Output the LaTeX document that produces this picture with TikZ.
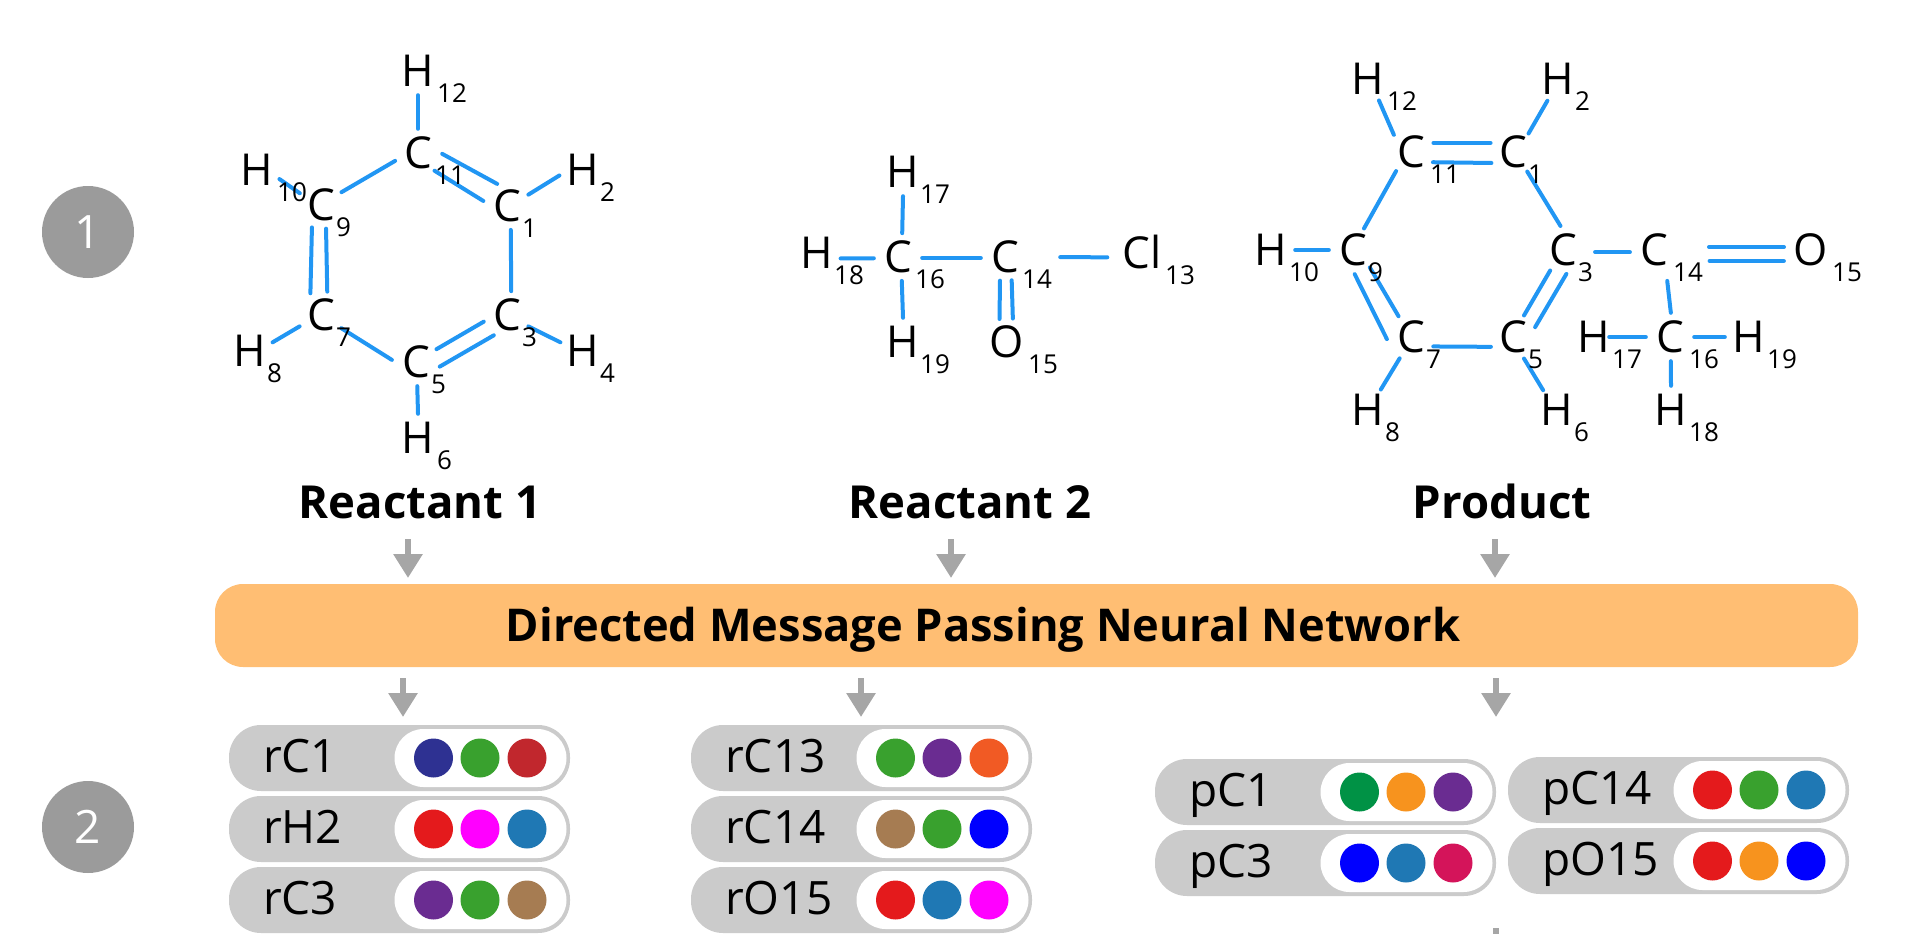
\documentclass[tikz,border=0pt]{standalone}
\usepackage{fontspec}
\setmainfont{Open Sans}
\usetikzlibrary{arrows.meta}
\definecolor{bondblue}{HTML}{2196F3}
\definecolor{stepgray}{HTML}{9B9B9B}
\definecolor{arrowgray}{HTML}{A6A6A6}
\definecolor{pillgray}{HTML}{CBCBCB}
\definecolor{netorange}{HTML}{FFBE73}
\definecolor{dotnavy}{HTML}{2E3192}
\definecolor{dotgreen}{HTML}{39A12E}
\definecolor{dotcrimson}{HTML}{C1272D}
\definecolor{dotred}{HTML}{E41A1C}
\definecolor{dotblue}{HTML}{1F78B4}
\definecolor{dotpurple}{HTML}{6A2C91}
\definecolor{dotbrown}{HTML}{A67C52}
\definecolor{dotrust}{HTML}{F15A24}
\definecolor{dotforest}{HTML}{009245}
\definecolor{dotorange}{HTML}{F7931E}
\definecolor{dotrose}{HTML}{D4145A}
\definecolor{dotmagenta}{HTML}{FF00FF}
\definecolor{dotpure}{HTML}{0000FF}
\newcommand{\atom}[4]{\node[atomlabel] (#1) at (#2,#3) {#4};}
\newcommand{\atomsub}[3][17]{\node[subnum] (#2sub) at ([shift={(#1,22)}]#2.center) {#3};}
\newcommand{\pillrow}[7]{%
  \node[pillbody] (#1) at (#2+170.5,#3+33) {};
  \node[pillwhite] (#1w) at (#2+252,#3+33) {};
  \node[pilltext] (#1t) at (#2+34,#3+31) {#4};
  \node[pilldot, fill=#5] (#1a) at (#2+204.5,#3+33) {};
  \node[pilldot, fill=#6] (#1b) at (#2+251,#3+33) {};
  \node[pilldot, fill=#7] (#1c) at (#2+298,#3+33) {};
}
\begin{document}
\begin{tikzpicture}[x=1pt, y=-1pt,
  atomlabel/.style={circle, inner sep=0pt, minimum size=48pt, text height=31pt, text depth=0pt, font=\fontsize{44}{44}\selectfont},
  subnum/.style={anchor=west, inner sep=0pt, font=\fontsize{26}{26}\selectfont},
  bond/.style={draw=bondblue, line width=\molBondWidth, line cap=round},
  steplabel/.style={circle, fill=stepgray, minimum size=92pt, inner sep=0pt, text=white, font=\fontsize{46}{46}\selectfont},
  moltitle/.style={inner sep=0pt, text height=33pt, text depth=0pt, font=\fontsize{45.5}{46}\bfseries\selectfont},
  netbar/.style={fill=netorange, rounded corners=28pt, minimum width=1643pt, minimum height=83pt, inner sep=0pt},
  nettext/.style={inner sep=0pt, text height=33pt, text depth=10pt, font=\fontsize{45.2}{46}\bfseries\selectfont},
  flowarrow/.style={draw=arrowgray, line width=6pt, -{Triangle[width=28pt, length=24pt]}},
  pillbody/.style={fill=pillgray, rounded corners=32pt, minimum width=341pt, minimum height=66pt, inner sep=0pt},
  pillwhite/.style={fill=white, rounded corners=29pt, minimum width=172pt, minimum height=58pt, inner sep=0pt, xshift=-0.5pt},
  pilltext/.style={anchor=west, inner sep=0pt, text height=33pt, text depth=0pt, font=\fontsize{46}{46}\selectfont},
  pilldot/.style={circle, minimum size=39pt, inner sep=0pt}]
\providecommand{\molBondWidth}{4pt}
\useasboundingbox (0,0) rectangle (1920,934);
% Step numbers
\node[steplabel] (stepone) at (88,232) {1};
\node[steplabel] (steptwo) at (88,827) {2};
% Reactant 1
\atom{raC11}{418}{153}{C}
\atom{raC1}{507}{206}{C}
\atom{raC3}{507}{315}{C}
\atom{raC5}{416}{362}{C}
\atom{raC7}{321}{315}{C}
\atom{raC9}{321}{205}{C}
\atom{raH12}{418}{71}{H}
\atom{raH2}{583}{170}{H}
\atom{raH4}{583}{351}{H}
\atom{raH6}{418}{438}{H}
\atom{raH8}{250}{351}{H}
\atom{raH10}{257}{170}{H}
\draw[bond] (raH12.-90) -- (raC11.90);
\draw[bond] (raC11.-2) -- (raC1.114);
\draw[bond] (raC11.-47) -- (raC1.168);
\draw[bond] (raC1.28) -- (raH2.193);
\draw[bond] (raC1.-81) -- (raC3.80);
\draw[bond] (raC3.-28) -- (raH4.159);
\draw[bond] (raC3.196) -- (raC5.32);
\draw[bond] (raC3.237) -- (raC5.-11);
\draw[bond] (raC5.-87) -- (raH6.90);
\draw[bond] (raC5.175) -- (raC7.-33);
\draw[bond] (raC7.208) -- (raH8.21);
\draw[bond] (raC9.248) -- (raC7.116);
\draw[bond] (raC9.-78) -- (raC7.75);
\draw[bond] (raC9.151) -- (raH10.-22);
\draw[bond] (raC9.32) -- (raC11.199);
\atomsub{raC11}{11}
\atomsub[15]{raC1}{1}
\atomsub[15]{raC3}{3}
\atomsub[15]{raC5}{5}
\atomsub[15]{raC7}{7}
\atomsub[15]{raC9}{9}
\atomsub[19]{raH12}{12}
\atomsub{raH2}{2}
\atomsub{raH4}{4}
\atomsub[19]{raH6}{6}
\atomsub{raH8}{8}
\atomsub[20]{raH10}{10}
\node[moltitle] (titlea) at (420,502) {Reactant 1};
% Reactant 2
\atom{rbH17}{903}{172}{H}
\atom{rbC16}{898}{257}{C}
\atom{rbC14}{1005}{257}{C}
\atom{rbCl13}{1142}{253}{Cl}
\atom{rbH18}{817}{253}{H}
\atom{rbH19}{903}{342}{H}
\atom{rbO15}{1007}{342}{O}
\draw[bond] (rbH17.-90) -- (rbC16.80);
\draw[bond] (rbH18.-13) -- (rbC16.183);
\draw[bond] (rbC16.-2) -- (rbC14.182);
\draw[bond, shorten <=31pt, shorten >=10pt] (rbC14.0) -- (rbCl13.190);
\draw[bond] (rbC16.-81) -- (rbH19.90);
\draw[bond] (rbC14.258) -- (rbO15.108);
\draw[bond] (rbC14.-74) -- (rbO15.76);
\atomsub{rbH17}{17}
\atomsub{rbC16}{16}
\atomsub{rbC14}{14}
\atomsub[23]{rbCl13}{13}
\atomsub{rbH18}{18}
\atomsub{rbH19}{19}
\atomsub[21]{rbO15}{15}
\node[moltitle] (titleb) at (970,502) {Reactant 2};
% Product
\atom{prC11}{1411}{152}{C}
\atom{prC1}{1513}{152}{C}
\atom{prC3}{1563}{250}{C}
\atom{prC14}{1654}{250}{C}
\atom{prO15}{1811}{250}{O}
\atom{prC9}{1353}{250}{C}
\atom{prH10}{1271}{250}{H}
\atom{prC7}{1411}{337}{C}
\atom{prC5}{1513}{337}{C}
\atom{prH8}{1368}{410}{H}
\atom{prH6}{1557}{410}{H}
\atom{prH12}{1368}{79}{H}
\atom{prH2}{1558}{79}{H}
\atom{prC16}{1670}{337}{C}
\atom{prH17}{1594}{337}{H}
\atom{prH19}{1749}{337}{H}
\atom{prH18}{1671}{410}{H}
\draw[bond] (prH12.-63) -- (prC11.135);
\draw[bond] (prC11.22) -- (prC1.158);
\draw[bond] (prC11.-25) -- (prC1.207);
\draw[bond] (prH2.244) -- (prC1.50);
\draw[bond] (prC1.-54) -- (prC3.96);
\draw[bond] (prC11.232) -- (prC9.63);
\draw[bond] (prH10.0) -- (prC9.180);
\draw[bond] (prC9.-46) -- (prC7.121);
\draw[bond] (prC9.-86) -- (prC7.185);
\draw[bond] (prC7.-23) -- (prC5.204);
\draw[bond] (prC7.242) -- (prH8.58);
\draw[bond] (prC5.-63) -- (prH6.125);
\draw[bond] (prC5.63) -- (prC3.238);
\draw[bond] (prC5.24) -- (prC3.-82);
\draw[bond, shorten <=8pt] (prC3.-5) -- (prC14.185);
\draw[bond, shorten <=31pt, shorten >=3pt] (prC14.7) -- (prO15.173);
\draw[bond, shorten <=34pt, shorten >=5.6pt] (prC14.-27) -- (prO15.207);
\draw[bond, shorten <=10pt] (prC14.-60) -- (prC16.88);
\draw[bond, shorten <=-9pt] (prH17.0) -- (prC16.180);
\draw[bond] (prC16.0) -- (prH19.180);
\draw[bond] (prC16.-88) -- (prH18.90);
\atomsub[19]{prC11}{11}
\atomsub[15]{prC1}{1}
\atomsub[15]{prC3}{3}
\atomsub[19]{prC14}{14}
\atomsub[21]{prO15}{15}
\atomsub[15]{prC9}{9}
\atomsub[18]{prH10}{10}
\atomsub[15]{prC7}{7}
\atomsub[15]{prC5}{5}
\atomsub{prH8}{8}
\atomsub{prH6}{6}
\atomsub[19]{prH12}{12}
\atomsub{prH2}{2}
\atomsub[19]{prC16}{16}
\atomsub[18]{prH17}{17}
\atomsub[18]{prH19}{19}
\atomsub[18]{prH18}{18}
\node[moltitle] (titlep) at (1502,502) {Product};
% Network bar
\node[netbar] (network) at (1036.5,625.5) {};
\node[nettext] (nettitle) at (983,630) {Directed Message Passing Neural Network};
% Arrows
\foreach \n/\ax/\ay in {a/408/539, b/951/539, c/1495/539, d/403/678, e/861/678, f/1496/678}{
  \coordinate (arrtop\n) at (\ax,\ay);
  \coordinate (arrend\n) at (\ax,\ay+39);
  \draw[flowarrow] (arrtop\n) -- (arrend\n);
}
\coordinate (stubtop) at (1496,928);
\coordinate (stubend) at (1496,934);
\draw[draw=arrowgray, line width=6pt] (stubtop) -- (stubend);
% Feature pills
\pillrow{pillrCa}{229}{725}{rC1}{dotnavy}{dotgreen}{dotcrimson}
\pillrow{pillrHb}{229}{796}{rH2}{dotred}{dotmagenta}{dotblue}
\pillrow{pillrCc}{229}{867}{rC3}{dotpurple}{dotgreen}{dotbrown}
\pillrow{pillrCm}{691}{725}{rC13}{dotgreen}{dotpurple}{dotrust}
\pillrow{pillrCn}{691}{796}{rC14}{dotbrown}{dotgreen}{dotpure}
\pillrow{pillrOo}{691}{867}{rO15}{dotred}{dotblue}{dotmagenta}
\pillrow{pillpCa}{1155}{759}{pC1}{dotforest}{dotorange}{dotpurple}
\pillrow{pillpCc}{1155}{830}{pC3}{dotpure}{dotblue}{dotrose}
\pillrow{pillpCn}{1508}{757}{pC14}{dotred}{dotgreen}{dotblue}
\pillrow{pillpOo}{1508}{828}{pO15}{dotred}{dotorange}{dotpure}
\end{tikzpicture}
\end{document}
